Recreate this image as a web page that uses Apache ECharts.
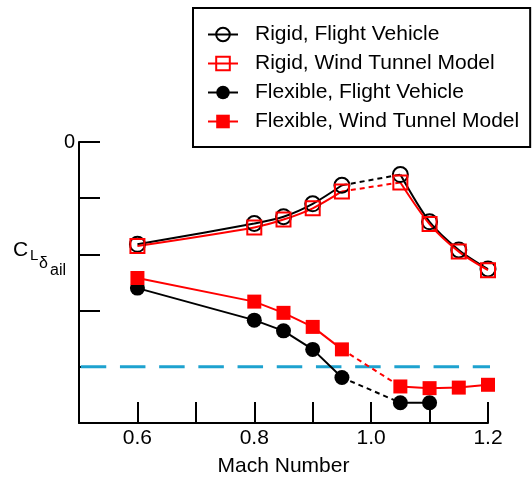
<!DOCTYPE html>
<html>
<head>
<meta charset="utf-8">
<script src="https://cdn.jsdelivr.net/npm/echarts@6/dist/echarts.min.js"></script>
<style>
  html, body { margin: 0; padding: 0; background: #fff; }
  #chart { width: 532px; height: 478px; }
</style>
</head>
<body>
<div id="chart"></div>
<script>
// Mach numbers
var machRigid = [0.6, 0.8, 0.85, 0.9, 0.95, 1.05, 1.1, 1.15, 1.2];
var machFlexFlight = [0.6, 0.8, 0.85, 0.9, 0.95, 1.05, 1.1];

// C_L delta_ail values
var rigidFlight = [-1.82, -1.45, -1.33, -1.10, -0.77, -0.58, -1.42, -1.92, -2.26];
var rigidWT     = [-1.85, -1.52, -1.38, -1.18, -0.88, -0.72, -1.46, -1.95, -2.28];
var flexFlight  = [-2.60, -3.17, -3.36, -3.69, -4.19, -4.64, -4.64];
var flexWT      = [-2.42, -2.84, -3.04, -3.29, -3.69, -4.35, -4.38, -4.37, -4.32];

// horizontal reference line (Mach span, value)
var refMach = [0.503, 1.2205];
var refValue = -4;

var legendNames = ['Rigid, Flight Vehicle', 'Rigid, Wind Tunnel Model',
                   'Flexible, Flight Vehicle', 'Flexible, Wind Tunnel Model'];

var FONT = '"Liberation Sans", Arial, Helvetica, sans-serif';
var RED = '#ff0000';

// solid part: points before and after the gap (0.95 -> 1.05), broken with '-'
function solidData(mach, vals) {
  var out = [];
  for (var i = 0; i < mach.length; i++) {
    out.push([mach[i], vals[i]]);
    if (mach[i] === 0.95) out.push([1.0, '-']);
  }
  return out;
}
// dashed gap part
function gapData(mach, vals) {
  var i = mach.indexOf(0.95);
  return [[mach[i], vals[i]], [mach[i + 1], vals[i + 1]]];
}

var chart = echarts.init(document.getElementById('chart'));

function mkSolid(name, mach, vals, color, symbol, filled, smooth) {
  return {
    name: name,
    type: 'line',
    data: solidData(mach, vals),
    smooth: smooth,
    symbol: symbol,
    symbolSize: symbol === 'circle' ? 15 : 14,
    lineStyle: { color: color, width: 2 },
    itemStyle: filled ? { color: color } :
      { color: 'rgba(255,255,255,0)', borderColor: color, borderWidth: 2 },
    z: 3
  };
}
function mkGap(mach, vals, color) {
  return {
    name: 'gap',
    type: 'line',
    data: gapData(mach, vals),
    symbol: 'none',
    lineStyle: { color: color, width: 2, type: [5, 4] },
    z: 2
  };
}

var option = {
  animation: false,
  backgroundColor: '#fff',
  textStyle: { fontFamily: FONT },
  grid: { left: 79, right: 44, top: 142, bottom: 55, outerBoundsMode: 'none', containLabel: false },
  legend: {
    data: legendNames,
    orient: 'vertical',
    left: 193,
    top: 8,
    padding: [16, 11, 15, 14],
    itemWidth: 30,
    itemHeight: 17,
    itemGap: 8,
    borderColor: '#000',
    borderWidth: 2,
    backgroundColor: '#fff',
    textStyle: { fontFamily: FONT, fontSize: 21, color: '#000', lineHeight: 21, padding: [0, 0, 0, 12] }
  },
  xAxis: {
    type: 'value',
    min: 0.5,
    max: 1.2,
    interval: 0.1,
    name: 'Mach Number',
    nameLocation: 'middle',
    nameGap: 33,
    nameTextStyle: { fontFamily: FONT, fontSize: 21, color: '#000' },
    axisLine: { onZero: false, lineStyle: { color: '#000', width: 2 } },
    axisTick: { inside: true, length: 21, lineStyle: { color: '#000', width: 2 } },
    axisLabel: {
      fontFamily: FONT, fontSize: 21, color: '#000', margin: 5,
      formatter: function (v) {
        var r = Math.round(v * 10);
        return r % 2 === 0 ? v.toFixed(1) : '';
      }
    },
    splitLine: { show: false }
  },
  yAxis: {
    type: 'value',
    min: -5,
    max: 0,
    interval: 1,
    axisLine: { show: true, onZero: false, lineStyle: { color: '#000', width: 2 } },
    axisTick: { show: true, inside: true, length: 21, lineStyle: { color: '#000', width: 2 } },
    axisLabel: {
      fontFamily: FONT, fontSize: 20, color: '#000', margin: 4,
      formatter: function (v) { return v === 0 ? '0' : ''; }
    },
    splitLine: { show: false }
  },
  graphic: [
    { type: 'text', left: 13, top: 240, style: { text: 'C', font: '21px ' + FONT, fill: '#000' } },
    { type: 'text', left: 30, top: 248, style: { text: 'L', font: '15px ' + FONT, fill: '#000' } },
    { type: 'text', left: 39, top: 256, style: { text: 'δ', font: '16px ' + FONT, fill: '#000' } },
    { type: 'text', left: 50, top: 263, style: { text: 'ail', font: '16px ' + FONT, fill: '#000' } }
  ],
  series: [
    {
      name: 'ref',
      type: 'line',
      data: [[refMach[0], refValue], [refMach[1], refValue]],
      clip: false,
      symbol: 'none',
      lineStyle: { color: '#1ea2cf', width: 3, type: [25.5, 13.7] },
      z: 1
    },
    mkGap(machRigid, rigidFlight, '#000'),
    mkGap(machRigid, rigidWT, RED),
    mkGap(machFlexFlight, flexFlight, '#000'),
    mkGap(machRigid, flexWT, RED),
    mkSolid(legendNames[0], machRigid, rigidFlight, '#000', 'circle', false, 0.3),
    mkSolid(legendNames[1], machRigid, rigidWT, RED, 'rect', false, 0.3),
    mkSolid(legendNames[2], machFlexFlight, flexFlight, '#000', 'circle', true, false),
    mkSolid(legendNames[3], machRigid, flexWT, RED, 'rect', true, false)
  ]
};

chart.setOption(option);
</script>
</body>
</html>
